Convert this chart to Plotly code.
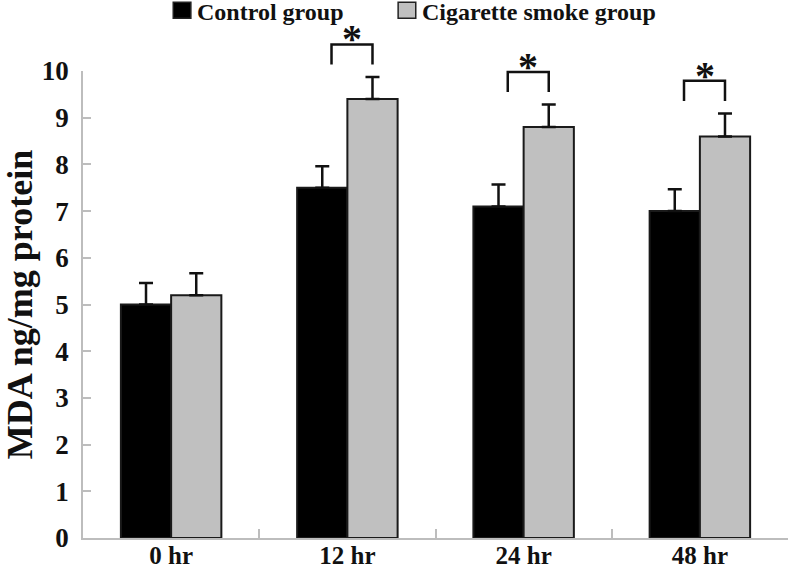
"""MDA levels: control vs cigarette smoke group, grouped bar chart."""

import plotly.graph_objects as go

# data
time_points = ["0 hr", "12 hr", "24 hr", "48 hr"]
control_mean = [5.0, 7.5, 7.1, 7.0]
control_err = [0.46, 0.46, 0.47, 0.47]
smoke_mean = [5.2, 9.4, 8.8, 8.6]
smoke_err = [0.47, 0.47, 0.48, 0.49]
significant = [False, True, True, True]

series_names = ["Control group", "Cigarette smoke group"]
series_colors = ["#000000", "#c0c0c0"]

FONT = "Liberation Serif, Times New Roman, serif"
BARGAP = 0.43
Y_MAX = 10

fig = go.Figure()

for name, color, means, errs in zip(
    series_names,
    series_colors,
    [control_mean, smoke_mean],
    [control_err, smoke_err],
):
    fig.add_trace(
        go.Bar(
            x=time_points,
            y=means,
            name=name,
            marker=dict(color=color, line=dict(color="#1a1a1a", width=2)),
            error_y=dict(
                type="data",
                symmetric=False,
                array=errs,
                arrayminus=[0] * len(errs),
                color="#111111",
                thickness=2.5,
                width=7,
            ),
            showlegend=False,
        )
    )

# significance brackets: right leg sits on the smoke bar's error bar
bar_w = (1 - BARGAP) / 2
for i, sig in enumerate(significant):
    if not sig:
        continue
    cap = smoke_mean[i] + smoke_err[i]
    y_low = (cap + 0.27) / Y_MAX
    y_high = (cap + 0.70) / Y_MAX
    x_left = i - 0.09
    x_right = i + bar_w / 2
    fig.add_shape(
        type="path",
        xref="x",
        yref="paper",
        path=(
            f"M {x_left},{y_low} L {x_left},{y_high} "
            f"L {x_right},{y_high} L {x_right},{y_low}"
        ),
        line=dict(color="#111111", width=2.5),
    )
    fig.add_annotation(
        x=(x_left + x_right) / 2,
        y=y_high,
        xref="x",
        yref="paper",
        text="<b>*</b>",
        showarrow=False,
        yanchor="bottom",
        yshift=-19,
        font=dict(family=FONT, size=40, color="#111111"),
    )

# legend drawn by hand so the keys match the reference size
legend_items = [(0.128, series_names[0]), (0.447, series_names[1])]
for (x0, label), color in zip(legend_items, series_colors):
    fig.add_shape(
        type="rect",
        xref="paper",
        yref="paper",
        x0=x0,
        x1=x0 + 0.025,
        y0=1.113,
        y1=1.147,
        fillcolor=color,
        line=dict(color="#222222", width=1.5),
    )
    fig.add_annotation(
        x=x0 + 0.031,
        y=1.127,
        xref="paper",
        yref="paper",
        text=f"<b>{label}</b>",
        showarrow=False,
        xanchor="left",
        yanchor="middle",
        font=dict(family=FONT, size=24, color="#111111"),
    )

fig.update_layout(
    width=790,
    height=571,
    barmode="group",
    bargap=BARGAP,
    bargroupgap=0,
    plot_bgcolor="white",
    paper_bgcolor="white",
    margin=dict(l=83, r=2, t=71, b=33),
    font=dict(family=FONT, color="#111111"),
    xaxis=dict(
        automargin=False,
        showline=True,
        linecolor="#bdbdbd",
        linewidth=1.5,
        ticks="inside",
        tickson="boundaries",
        ticklen=9,
        tickcolor="#bdbdbd",
        tickwidth=1.5,
        ticklabelstandoff=-6,
        tickfont=dict(family=FONT, size=25, color="#111111"),
        tickprefix="<b>",
        ticksuffix="</b>",
        range=[-0.5, 3.5],
    ),
    yaxis=dict(
        automargin=False,
        range=[0, Y_MAX],
        dtick=1,
        showgrid=False,
        zeroline=False,
        showline=True,
        linecolor="#bdbdbd",
        linewidth=1.5,
        ticks="inside",
        ticklen=8,
        tickcolor="#bdbdbd",
        tickwidth=1.5,
        ticklabelstandoff=7,
        tickfont=dict(family=FONT, size=27, color="#111111"),
        tickprefix="<b>",
        ticksuffix="</b>",
        title=dict(
            text="<b>MDA ng/mg protein</b>",
            font=dict(family=FONT, size=36, color="#111111"),
            standoff=4,
        ),
    ),
)

# the page's default body margin would shift the figure by 8px
fig.write_html(
    "out.html",
    config={"displayModeBar": False},
    post_script="document.body.style.margin = '0';",
)
